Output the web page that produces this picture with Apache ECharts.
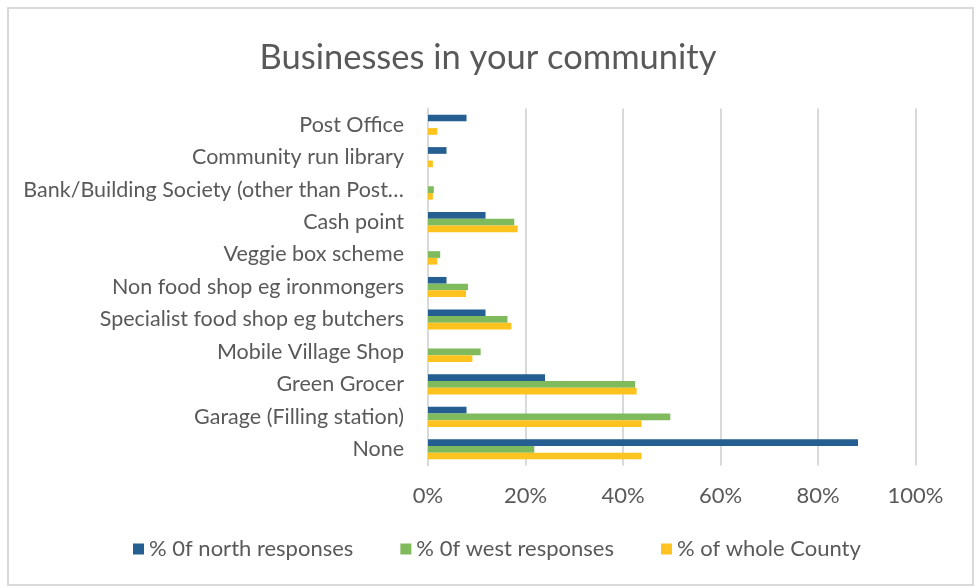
<!DOCTYPE html>
<html>
<head>
<meta charset="utf-8">
<script src="https://cdn.jsdelivr.net/npm/echarts@6/dist/echarts.min.js"></script>
<style>
html,body{margin:0;padding:0;background:#fff;}
#chart{width:976px;height:587px;}
</style>
</head>
<body>
<div id="chart"></div>
<script>
const categories = [
  'Post Office',
  'Community run library',
  'Bank/Building Society (other than Post\u2026',
  'Cash point',
  'Veggie box scheme',
  'Non food shop eg ironmongers',
  'Specialist food shop eg butchers',
  'Mobile Village Shop',
  'Green Grocer',
  'Garage (Filling station)',
  'None'
];
const northValues  = [7.9, 3.8, 0, 11.8, 0, 3.8, 11.8, 0, 24.0, 7.9, 88.2];
const westValues   = [0, 0, 1.2, 17.7, 2.5, 8.2, 16.3, 10.8, 42.5, 49.7, 21.8];
const countyValues = [1.9, 1.0, 1.0, 18.4, 1.9, 7.8, 17.1, 9.1, 42.8, 43.8, 43.8];
const seriesNames = ['% 0f north responses', '% 0f west responses', '% of whole County'];
const xTicks = [0, 20, 40, 60, 80, 100];

const FONT = 'Lato';
const chart = echarts.init(document.getElementById('chart'), null, {renderer: 'canvas'});
chart.setOption({
  backgroundColor: '#fff',
  animation: false,
  textStyle: {fontFamily: FONT},
  title: {
    text: 'Businesses in your community',
    left: 'center',
    top: 35,
    textStyle: {fontFamily: FONT, fontSize: 34.5, fontWeight: 'normal', color: '#595959'}
  },
  legend: {
    bottom: 22,
    left: 128,
    itemWidth: 11,
    itemHeight: 11,
    itemGap: 47,
    icon: 'rect',
    textStyle: {fontFamily: FONT, fontSize: 22, color: '#595959'},
    data: seriesNames
  },
  grid: {left: 428, right: 60.5, top: 108.5, bottom: 121.5, containLabel: false},
  xAxis: {
    type: 'value',
    min: xTicks[0],
    max: xTicks[xTicks.length - 1],
    interval: 20,
    axisLine: {show: false},
    axisTick: {show: false},
    splitLine: {lineStyle: {color: '#d9d9d9', width: 2}},
    axisLabel: {formatter: '{value}%', fontFamily: FONT, fontSize: 22, color: '#595959', margin: 19}
  },
  yAxis: {
    type: 'category',
    inverse: true,
    data: categories,
    axisLine: {show: true, lineStyle: {color: '#d9d9d9', width: 2}},
    axisTick: {show: false},
    axisLabel: {fontFamily: FONT, fontSize: 21.5, color: '#595959', margin: 24}
  },
  graphic: [{
    type: 'rect',
    shape: {x: 8, y: 8, width: 965, height: 577},
    style: {fill: null, stroke: '#d9d9d9', lineWidth: 2},
    silent: true
  }],
  series: [
    {name: seriesNames[0], type: 'bar', data: northValues, itemStyle: {color: '#255e91'}, barGap: '0%', barCategoryGap: '38%'},
    {name: seriesNames[1], type: 'bar', data: westValues, itemStyle: {color: '#7fba5c'}, barGap: '0%', barCategoryGap: '38%'},
    {name: seriesNames[2], type: 'bar', data: countyValues, itemStyle: {color: '#ffc31f'}, barGap: '0%', barCategoryGap: '38%'}
  ]
});
</script>
</body>
</html>
